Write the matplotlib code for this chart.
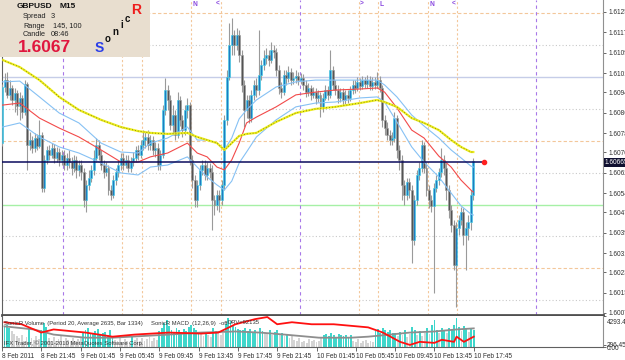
import numpy as np
import matplotlib.pyplot as plt
from matplotlib.patches import Rectangle

plt.rcParams['font.family'] = ['Liberation Sans', 'DejaVu Sans']

# ---- GBPUSD M15 candles (bar 0 = 8 Feb 18:00) ----
close = [1.60961, 1.60988, 1.60930, 1.60957, 1.60910, 1.60937, 1.60886, 1.60918, 1.60863, 1.60973,
         1.60734, 1.60753, 1.60722, 1.60761, 1.60730, 1.60773, 1.60565, 1.60675, 1.60714, 1.60694,
         1.60722, 1.60683, 1.60706, 1.60675, 1.60694, 1.60655, 1.60683, 1.60667, 1.60643, 1.60675,
         1.60636, 1.60655, 1.60628, 1.60518, 1.60577, 1.60604, 1.60636, 1.60683, 1.60734, 1.60694,
         1.60655, 1.60628, 1.60643, 1.60557, 1.60538, 1.60596, 1.60628, 1.60655, 1.60683, 1.60655,
         1.60675, 1.60643, 1.60667, 1.60683, 1.60714, 1.60694, 1.60734, 1.60753, 1.60765, 1.60734,
         1.60753, 1.60714, 1.60722, 1.60655, 1.60694, 1.60871, 1.60949, 1.60910, 1.60812, 1.60851,
         1.60773, 1.60910, 1.60832, 1.60792, 1.60871, 1.60890, 1.60675, 1.60596, 1.60518, 1.60577,
         1.60636, 1.60655, 1.60616, 1.60643, 1.60628, 1.60518, 1.60498, 1.60538, 1.60518, 1.60577,
         1.60832, 1.61000, 1.61126, 1.61165, 1.61126, 1.61165, 1.61086, 1.60969, 1.60871, 1.60910,
         1.60839, 1.60930, 1.60969, 1.60949, 1.61008, 1.61047, 1.61075, 1.61086, 1.61067, 1.61106,
         1.61098, 1.61028, 1.60957, 1.60941, 1.61008, 1.60996, 1.61020, 1.60988, 1.60996, 1.61004,
         1.60988, 1.60996, 1.60969, 1.60941, 1.60957, 1.60930, 1.60941, 1.60918, 1.60930, 1.60879,
         1.60918, 1.60949, 1.60930, 1.61028, 1.60969, 1.60949, 1.60918, 1.60941, 1.60910, 1.60930,
         1.60918, 1.60949, 1.60969, 1.60957, 1.60981, 1.60965, 1.60988, 1.60973, 1.60988, 1.60965,
         1.60981, 1.60969, 1.60988, 1.60957, 1.60832, 1.60800, 1.60773, 1.60753, 1.60761, 1.60839,
         1.60714, 1.60675, 1.60577, 1.60538, 1.60589, 1.60557, 1.60361, 1.60518, 1.60616, 1.60643,
         1.60734, 1.60643, 1.60557, 1.60518, 1.60495, 1.60565, 1.60596, 1.60628, 1.60675, 1.60643,
         1.60557, 1.60479, 1.60420, 1.60263, 1.60408, 1.60440, 1.60471, 1.60381, 1.60408, 1.60432,
         1.60538, 1.60671]
open_ = [1.60741] + close[:-1]
high = [1.60973, 1.61016, 1.61020, 1.60988, 1.60969, 1.60957, 1.60949, 1.60941, 1.60930, 1.60988,
        1.60981, 1.60785, 1.60769, 1.60781, 1.60777, 1.60832, 1.60785, 1.60694, 1.60730, 1.60734,
        1.60741, 1.60738, 1.60726, 1.60722, 1.60714, 1.60714, 1.60702, 1.60714, 1.60687, 1.60694,
        1.60690, 1.60675, 1.60675, 1.60643, 1.60596, 1.60636, 1.60655, 1.60714, 1.60761, 1.60753,
        1.60714, 1.60675, 1.60667, 1.60655, 1.60577, 1.60616, 1.60643, 1.60675, 1.60702, 1.60702,
        1.60694, 1.60694, 1.60687, 1.60706, 1.60730, 1.60734, 1.60753, 1.60792, 1.60785, 1.60792,
        1.60773, 1.60769, 1.60745, 1.60741, 1.60714, 1.60890, 1.60996, 1.60969, 1.60930, 1.60890,
        1.60871, 1.60941, 1.60926, 1.60851, 1.60890, 1.60918, 1.60902, 1.60694, 1.60616, 1.60596,
        1.60655, 1.60675, 1.60675, 1.60667, 1.60663, 1.60655, 1.60538, 1.60557, 1.60557, 1.60596,
        1.60851, 1.61028, 1.61212, 1.61231, 1.61184, 1.61192, 1.61184, 1.61106, 1.60988, 1.60930,
        1.60930, 1.60949, 1.60988, 1.60996, 1.61184, 1.61067, 1.61106, 1.61114, 1.61106, 1.61137,
        1.61126, 1.61114, 1.61047, 1.60981, 1.61028, 1.61028, 1.61043, 1.61035, 1.61020, 1.61028,
        1.61020, 1.61016, 1.61012, 1.60988, 1.60977, 1.60969, 1.60961, 1.60957, 1.60949, 1.60941,
        1.60937, 1.60969, 1.60965, 1.61106, 1.61043, 1.60988, 1.60969, 1.60957, 1.60957, 1.60949,
        1.60949, 1.60965, 1.60988, 1.60988, 1.61000, 1.60996, 1.61004, 1.61000, 1.61008, 1.61004,
        1.61000, 1.61000, 1.61020, 1.61004, 1.60969, 1.60851, 1.60824, 1.60792, 1.60785, 1.60863,
        1.60851, 1.60734, 1.60694, 1.60596, 1.60604, 1.60604, 1.60577, 1.60538, 1.60636, 1.60667,
        1.60753, 1.60745, 1.60667, 1.60577, 1.60538, 1.60585, 1.60616, 1.60643, 1.60722, 1.60694,
        1.60663, 1.60577, 1.60498, 1.60440, 1.60432, 1.60459, 1.60491, 1.60487, 1.60432, 1.60459,
        1.60557, 1.60683]
low = [1.60730, 1.60941, 1.60918, 1.60910, 1.60890, 1.60863, 1.60851, 1.60832, 1.60839, 1.60851,
       1.60636, 1.60714, 1.60702, 1.60706, 1.60714, 1.60722, 1.60549, 1.60549, 1.60659, 1.60675,
       1.60683, 1.60663, 1.60667, 1.60651, 1.60655, 1.60636, 1.60636, 1.60643, 1.60616, 1.60628,
       1.60604, 1.60612, 1.60596, 1.60491, 1.60471, 1.60557, 1.60589, 1.60616, 1.60667, 1.60675,
       1.60636, 1.60604, 1.60612, 1.60538, 1.60518, 1.60526, 1.60577, 1.60608, 1.60636, 1.60636,
       1.60643, 1.60628, 1.60628, 1.60651, 1.60667, 1.60675, 1.60683, 1.60714, 1.60722, 1.60714,
       1.60714, 1.60694, 1.60687, 1.60636, 1.60636, 1.60683, 1.60851, 1.60871, 1.60792, 1.60773,
       1.60753, 1.60761, 1.60808, 1.60765, 1.60773, 1.60839, 1.60655, 1.60565, 1.60491, 1.60491,
       1.60557, 1.60616, 1.60596, 1.60596, 1.60604, 1.60400, 1.60459, 1.60479, 1.60471, 1.60498,
       1.60557, 1.60812, 1.60988, 1.61086, 1.61086, 1.61106, 1.61059, 1.60941, 1.60804, 1.60839,
       1.60820, 1.60824, 1.60910, 1.60922, 1.60930, 1.60988, 1.61028, 1.61051, 1.61043, 1.61055,
       1.61075, 1.61004, 1.60934, 1.60918, 1.60930, 1.60969, 1.60981, 1.60969, 1.60973, 1.60977,
       1.60969, 1.60973, 1.60949, 1.60922, 1.60926, 1.60910, 1.60918, 1.60894, 1.60902, 1.60843,
       1.60863, 1.60910, 1.60910, 1.60918, 1.60949, 1.60930, 1.60898, 1.60902, 1.60890, 1.60894,
       1.60898, 1.60906, 1.60934, 1.60937, 1.60945, 1.60949, 1.60953, 1.60957, 1.60957, 1.60949,
       1.60949, 1.60953, 1.60957, 1.60941, 1.60804, 1.60773, 1.60753, 1.60734, 1.60734, 1.60745,
       1.60683, 1.60636, 1.60518, 1.60498, 1.60518, 1.60526, 1.60271, 1.60342, 1.60498, 1.60596,
       1.60628, 1.60624, 1.60534, 1.60487, 1.60471, 1.60153, 1.60549, 1.60577, 1.60608, 1.60616,
       1.60518, 1.60447, 1.60393, 1.60244, 1.60099, 1.60381, 1.60420, 1.60342, 1.60244, 1.60361,
       1.60400, 1.60518]

# ---- moving averages / envelope, read at these bars ----
ma_bars = [0, 7, 15, 23, 31, 40, 48, 55, 60, 67, 75, 79, 83, 87, 90, 93, 96, 99, 103,
           111, 119, 127, 135, 145, 152, 155, 160, 166, 171, 177, 182, 186, 190, 191]
ma_slow = [1.61067, 1.61039, 1.60988, 1.60922, 1.60871, 1.60832, 1.60804, 1.60788, 1.60781, 1.60777,
           1.60781, 1.60765, 1.60753, 1.60741, 1.60714, 1.60741, 1.60769, 1.60777, 1.60781, 1.60824,
           1.60859, 1.60875, 1.60883, 1.60898, 1.60910, 1.60902, 1.60883, 1.60839, 1.60820, 1.60792,
           1.60753, 1.60726, 1.60706, 1.60706]
ma_mid = [1.60890, 1.60898, 1.60839, 1.60800, 1.60765, 1.60714, 1.60667, 1.60667, 1.60687, 1.60702,
          1.60741, 1.60702, 1.60687, 1.60647, 1.60636, 1.60675, 1.60741, 1.60820, 1.60843, 1.60883,
          1.60930, 1.60941, 1.60949, 1.60953, 1.60957, 1.60941, 1.60879, 1.60792, 1.60761, 1.60690,
          1.60647, 1.60596, 1.60557, 1.60549]
band_up = [1.60981, 1.60984, 1.60922, 1.60859, 1.60820, 1.60741, 1.60706, 1.60702, 1.60741, 1.60761,
           1.60804, 1.60753, 1.60753, 1.60741, 1.60714, 1.60761, 1.60836, 1.60871, 1.60910, 1.60961,
           1.60981, 1.60988, 1.60988, 1.60988, 1.60988, 1.60969, 1.60922, 1.60851, 1.60808, 1.60761,
           1.60714, 1.60683, 1.60651, 1.60647]
band_dn = [1.60804, 1.60820, 1.60765, 1.60726, 1.60702, 1.60663, 1.60624, 1.60616, 1.60647, 1.60655,
           1.60687, 1.60647, 1.60608, 1.60577, 1.60557, 1.60592, 1.60663, 1.60706, 1.60765, 1.60832,
           1.60883, 1.60898, 1.60902, 1.60918, 1.60922, 1.60902, 1.60824, 1.60726, 1.60667, 1.60608,
           1.60545, 1.60495, 1.60463, 1.60459]

price_levels = [1.6125, 1.61125, 1.6100, 1.60875, 1.6075, 1.60625, 1.6050, 1.60375, 1.6025, 1.60125]
level_kind = ['q', 'e', 'big', 'e', 'q', 'e', 'half', 'e', 'q', 'e']
price_ticks = [1.61255, 1.61175, 1.61095, 1.61015, 1.60940, 1.60860, 1.60780, 1.60705, 1.60625,
               1.60545, 1.60470, 1.60390, 1.60310, 1.60235, 1.60155, 1.60075]
line_price = 1.60665
line_end_bar = 195.5

day_sep_bars = [24, 120, 216]
session_bars = [48, 56, 76, 88, 144, 152, 172, 184]
session_marks = ['>', 'L', 'N', '<', '>', 'L', 'N', '<']

time_bars = [-1, 15, 31, 47, 63, 79, 95, 111, 127, 143, 159, 175, 191]
time_labels = ['8 Feb 2011', '8 Feb 21:45', '9 Feb 01:45', '9 Feb 05:45', '9 Feb 09:45',
               '9 Feb 13:45', '9 Feb 17:45', '9 Feb 21:45', '10 Feb 01:45', '10 Feb 05:45',
               '10 Feb 09:45', '10 Feb 13:45', '10 Feb 17:45']

# ---- SonicR volume window ----
volume = [2900, 3100, 2600, 2200, 1800, 1500, 1200, 1600, 900, 1400,
          2600, 1300, 1000, 1500, 1100, 2400, 3300, 2800, 1200, 900,
          1400, 800, 1100, 1500, 700, 1300, 1000, 900, 1200, 800,
          1100, 1300, 1900, 2400, 2600, 2000, 1800, 2200, 2500, 1700,
          1900, 2100, 1600, 2300, 1400, 1000, 800, 1200, 700, 1100,
          900, 600, 1500, 1000, 1300, 900, 1200, 800, 1100, 1400,
          900, 1200, 1000, 2200, 2600, 3300, 3700, 2900, 2400, 2100,
          2600, 2300, 2000, 2500, 2200, 2800, 3000, 2600, 2300, 2100,
          1800, 1500, 2100, 1700, 1400, 2600, 2200, 1900, 1600, 2000,
          3200, 4000, 3600, 3000, 2800, 2500, 2300, 2400, 2700, 2200,
          2500, 2100, 2300, 1900, 2600, 2200, 2000, 1800, 2300, 1600,
          2100, 2400, 1700, 1900, 1500, 1800, 1300, 1600, 1000, 800,
          1200, 700, 900, 600, 1100, 800, 1000, 700, 900, 1200,
          1600, 1800, 1500, 1900, 1700, 1400, 1800, 1600, 1500, 1700,
          1400, 1600, 900, 700, 1100, 600, 800, 1000, 500, 900,
          700, 2200, 2500, 1900, 2700, 2400, 2100, 2300, 2000, 1900,
          1500, 2100, 1700, 2300, 1400, 1800, 2800, 2400, 1700, 2200,
          1500, 1900, 2600, 1800, 3100, 3800, 2300, 2000, 2600, 2400,
          1900, 2700, 2500, 3000, 4000, 2800, 2200, 2900, 2700, 2100,
          2600, 2400]
vol_flag = ("cccggggggg" "cggggcccgg" "gggggggggg" "ggcccccccc" "cccccggggg"
            "ggcggggggg" "gggccccccc" "cccccccccc" "ggcggccggg" "cccccccccc"
            "cccgccggcg" "ccgcgcgggg" "gggggggggg" "cccccccccc" "ccgggggggg"
            "gccccccccc" "gcgcggccgc" "ggcgcccgcc" "gcccccgccg" "cc")
avg_bars = [0, 12, 20, 33, 44, 67, 80, 94, 104, 114, 128, 141, 148, 157, 165, 175, 184, 191]
vol_avg = [2860, 2430, 1720, 1290, 1290, 1720, 2000, 2150, 2000, 1720, 1290, 1290, 1430, 1720,
           2000, 2150, 2430, 2580]
macd_bars = [0, 7, 15, 20, 33, 44, 53, 67, 80, 87, 94, 102, 107, 111, 117, 125, 134, 148, 154,
             161, 165, 169, 175, 178, 183, 184, 187, 191]
macd_line = [3430, 3150, 2000, 2430, 2000, 1430, 1720, 2000, 1860, 2000, 3150, 3860, 4150, 3150,
             3430, 3150, 3150, 2720, 2000, 715, 290, 715, 570, 1000, 715, 1430, 715, 1430]
vol_max = 4293.45

W, H = 625, 360
FS = 4.7
FS_SUB = 4.2
fig = plt.figure(figsize=(6.25, 3.6), dpi=100)
fig.patch.set_facecolor('white')


def rect(x0, y0, x1, y1):
    return [x0 / W, 1 - y1 / H, (x1 - x0) / W, (y1 - y0) / H]


ax = fig.add_axes(rect(2, 0, 603, 315))
sub = fig.add_axes(rect(2, 316, 603, 347))
XMIN, XMAX = -0.2, 243.6

# grid levels
styles = {'q': dict(color='#f3c79a', lw=0.8, ls=(0, (3, 2))),
          'e': dict(color='#c9c9c9', lw=0.8, ls=(0, (1, 2))),
          'big': dict(color='#c6cde8', lw=1.0, ls='-'),
          'half': dict(color='#a6f0a6', lw=1.0, ls='-')}
for p, k in zip(price_levels, level_kind):
    ax.axhline(p, zorder=1, **styles[k])
for b in day_sep_bars:
    ax.axvline(b + 0.5, color='#a878e8', lw=0.8, ls=(0, (3, 3)), zorder=1)
for b, m in zip(session_bars, session_marks):
    ax.axvline(b + 0.5, color='#f3c79a', lw=0.8, ls=(0, (2, 2)), zorder=1)
    ha = 'right' if m == '<' else 'left'
    ax.text(b + 0.5 + (-0.6 if ha == 'right' else 0.6), 1.61285, m, ha=ha, va='center',
            fontsize=4.8, color='#8a4ae0', fontweight='bold', zorder=6)

# candles
o = np.array(open_)
c = np.array(close)
idx = np.arange(len(c))
up = c >= o
ax.vlines(idx, low, high, color='#9a9a9a', lw=0.8, zorder=3)
body = np.maximum(np.abs(c - o), 0.000015)
ax.bar(idx[up], body[up], bottom=o[up], width=0.8, color='#1f7cc2',
       edgecolor='#3ed2e6', lw=0.4, zorder=4)
ax.bar(idx[~up], body[~up], bottom=c[~up], width=0.8, color='#545454',
       edgecolor='#9a9a9a', lw=0.4, zorder=4)

# averages
ax.plot(ma_bars, band_up, color='#86c1f4', lw=0.8, zorder=5)
ax.plot(ma_bars, band_dn, color='#86c1f4', lw=0.8, zorder=5)
ax.plot(ma_bars, ma_mid, color='#f24a4a', lw=0.8, zorder=5)
ax.plot(ma_bars, ma_slow, color='#eeee1e', lw=1.6, zorder=5)
ax.plot(ma_bars, ma_slow, color='#6d6d10', lw=0.6, ls=(0, (1, 2.5)), zorder=5)

# current price line
ax.plot([XMIN, line_end_bar], [line_price, line_price], color='#0a0a5c', lw=1.1, zorder=6)
ax.plot([line_end_bar], [line_price], 'o', color='#ff2020', ms=3.0, zorder=7)

ax.set_xlim(XMIN, XMAX)
ax.set_ylim(1.60067, 1.61302)
ax.set_xticks([])
ax.yaxis.tick_right()
ax.set_yticks(price_ticks)
ax.set_yticklabels(['%.5f' % t for t in price_ticks])
ax.tick_params(axis='y', length=2.5, width=0.6, color='#505050', labelsize=FS, pad=1.2,
               labelcolor='#303030')
ax.spines['top'].set_visible(False)
ax.spines['left'].set_color('#606060')
ax.spines['right'].set_color('#909090')
ax.spines['bottom'].set_color('#505050')
ax.spines['bottom'].set_linewidth(2)
ax.text(1.003, line_price, '1.60665', transform=ax.get_yaxis_transform(), ha='left', va='center',
        fontsize=FS, color='white', clip_on=False, zorder=8,
        bbox=dict(boxstyle='square,pad=0.15', fc='#101030', ec='none'))

# volume window
vcol = ['#3fd6cb' if f == 'c' else '#d4d4d4' for f in vol_flag]
sub.bar(idx, volume, width=0.75, color=vcol, zorder=2)
sub.plot(avg_bars, vol_avg, color='#8e8e8e', lw=1.3, zorder=3)
sub.plot(macd_bars, macd_line, color='#ff1010', lw=1.3, zorder=4)
sub.set_xlim(XMIN, XMAX)
sub.set_ylim(0, vol_max)
sub.yaxis.tick_right()
sub.set_yticks([vol_max, 296.45, 0])
sub.set_yticklabels(['', '', ''])
sub.tick_params(axis='y', length=2.5, width=0.6, color='#505050')
sub.set_xticks(time_bars)
sub.set_xticklabels(time_labels)
for lbl in sub.get_xticklabels():
    lbl.set_horizontalalignment('left')
sub.tick_params(axis='x', length=3, width=0.6, color='#505050', labelsize=FS, pad=1.5,
                labelcolor='#303030')
sub.spines['top'].set_visible(False)
sub.spines['left'].set_color('#606060')
sub.spines['right'].set_color('#909090')
sub.spines['bottom'].set_color('#606060')
sub.text(1.006, 0.8, '4293.45', transform=sub.transAxes, fontsize=FS, color='#303030',
         va='center', ha='left', clip_on=False)
sub.text(1.006, 0.06, '296.45', transform=sub.transAxes, fontsize=FS, color='#303030',
         va='center', ha='left', clip_on=False)
sub.text(1.006, -0.04, '0.00', transform=sub.transAxes, fontsize=FS, color='#303030',
         va='center', ha='left', clip_on=False)

# overlay: indicator captions and info panel
ov = fig.add_axes([0, 0, 1, 1])
ov.set_xlim(0, W)
ov.set_ylim(H, 0)
ov.axis('off')
ov.patch.set_alpha(0)
ov.text(4, 323, 'SonicR Volume  (Period 20, Average 2635, Bar 1334)', fontsize=FS_SUB,
        color='#333333', va='center', zorder=6)
ov.text(151, 323, 'SonicR MACD  (12,26,9)  -off', fontsize=FS_SUB, color='#333333',
        va='center', zorder=6)
ov.text(228, 323, 'DRV=92135', fontsize=FS_SUB, color='#333333', va='center', zorder=6)
ov.text(4, 343, 'IFX Trader, \u00a9 2001-2010 MetaQuotes Software Corp.', fontsize=FS_SUB,
        color='#333333', va='center', zorder=6)

ov.add_patch(Rectangle((0, 0), 150, 57, fc='#e8decf', ec='none'))
ov.text(17, 7, 'GBPUSD', fontsize=6.0, fontweight='bold', color='#111111', va='center')
ov.text(60, 7, 'M15', fontsize=6.0, fontweight='bold', color='#111111', va='center')
ov.text(23, 17, 'Spread', fontsize=5.3, color='#222222', va='center')
ov.text(51, 17, '3', fontsize=5.3, color='#222222', va='center')
ov.text(23, 26, 'Range', fontsize=5.3, color='#222222', va='center')
ov.text(53, 26, '145, 100', fontsize=5.3, color='#222222', va='center')
ov.text(23, 35, 'Candle', fontsize=5.3, color='#222222', va='center')
ov.text(51, 35, '08:46', fontsize=5.3, color='#222222', va='center')
ov.text(18, 48, '1.6067', fontsize=12.5, fontweight='bold', color='#e0163e', va='center')
ov.text(99, 48, 'S', fontsize=10, fontweight='bold', color='#2a3ee8', va='center', ha='center')
for ch, x, y in [('o', 107.5, 39.5), ('n', 115, 32), ('i', 121.5, 25), ('c', 127.5, 18.5)]:
    ov.text(x, y, ch, fontsize=7, fontweight='bold', color='#111111', va='center', ha='center')
ov.text(136, 10, 'R', fontsize=10, fontweight='bold', color='#ee1c1c', va='center', ha='center')

fig.savefig('out.png', dpi=100)
